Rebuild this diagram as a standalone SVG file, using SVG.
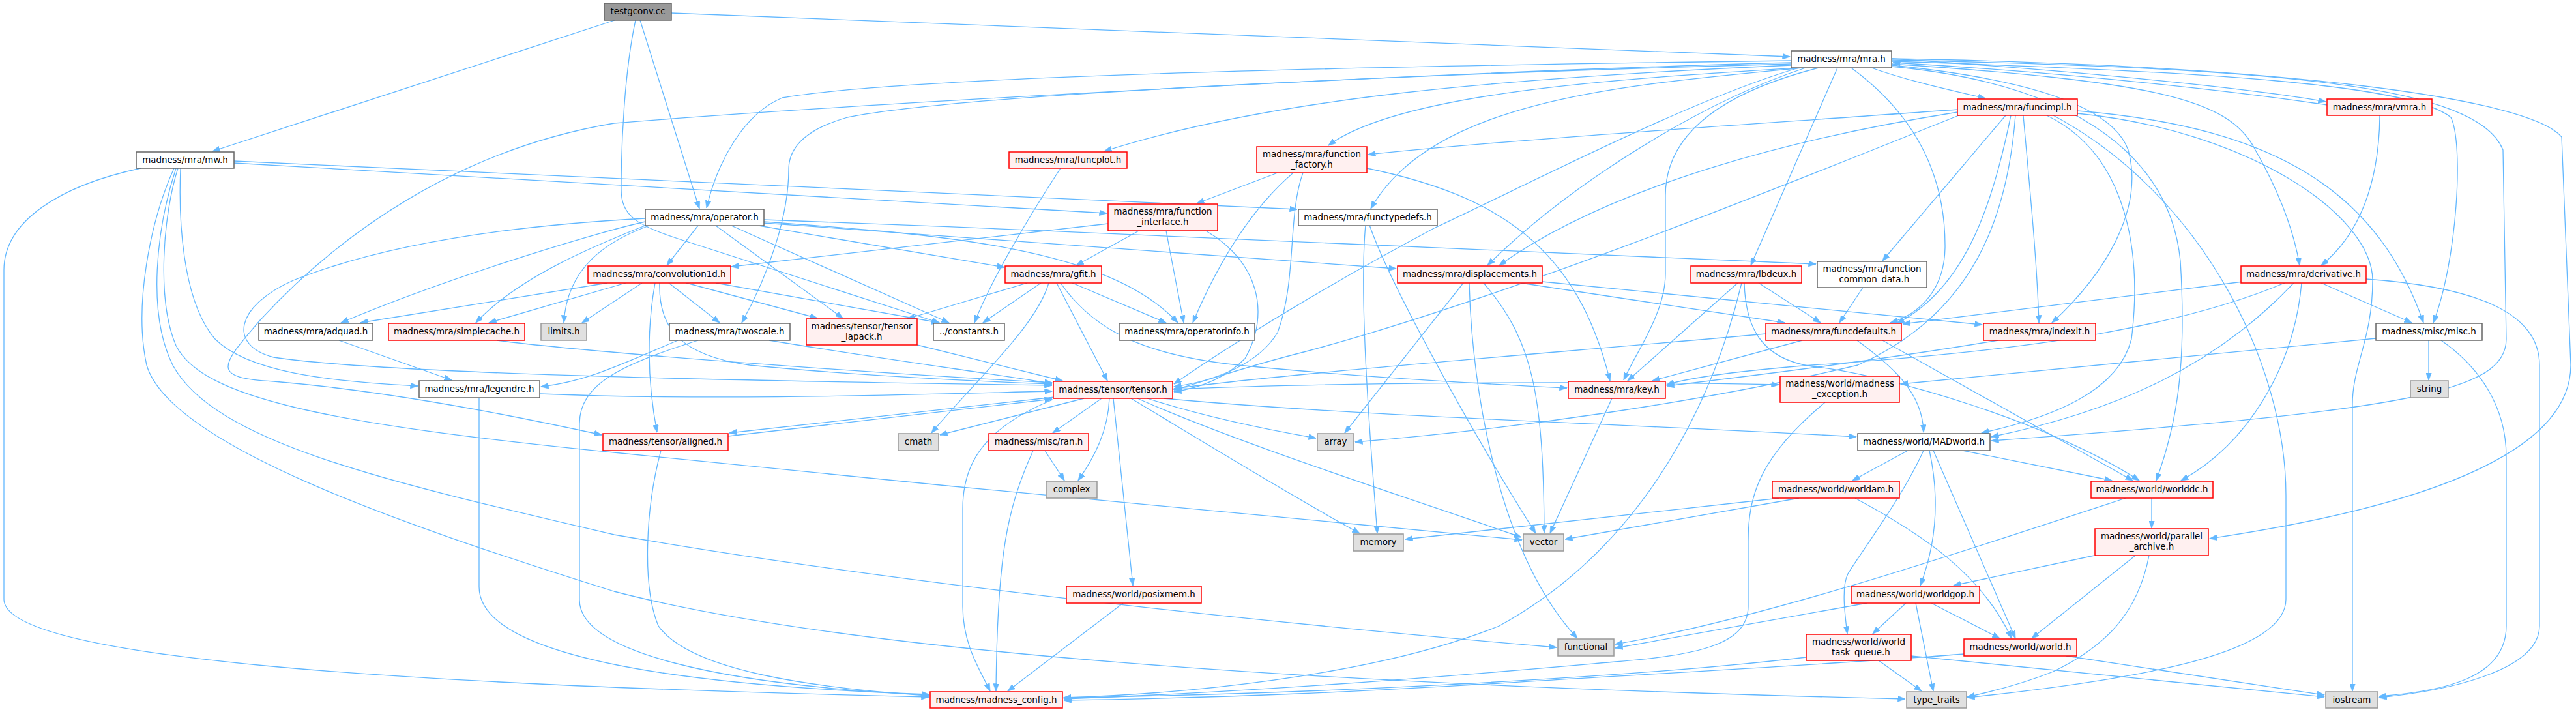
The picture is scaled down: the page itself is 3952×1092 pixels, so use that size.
<svg xmlns="http://www.w3.org/2000/svg" width="3952" height="1092" viewBox="0 0 3952 1092">
<defs>
<style>
.e path{fill:none;stroke:#63B8FF;stroke-width:1.3;marker-end:url(#a)}
text{font-family:"DejaVu Sans",Verdana,sans-serif;font-size:13.4px;fill:#000;text-anchor:middle}
.w rect{fill:#FFFFFF;stroke:#666666;stroke-width:1.5}
.r rect{fill:#FFF0F0;stroke:#FF0000;stroke-width:1.5}
.g rect{fill:#E0E0E0;stroke:#999999;stroke-width:1.5}
.root rect{fill:#999999;stroke:#666666;stroke-width:1.5}
</style>
<marker id="a" viewBox="0 0 12 9" refX="11.5" refY="4.5" markerWidth="12" markerHeight="9" markerUnits="userSpaceOnUse" orient="auto"><path d="M0,0L12,4.5L0,9z" fill="#63B8FF" stroke="#63B8FF" stroke-width="0.5"/></marker>
</defs>
<rect x="0" y="0" width="3952" height="1092" fill="#FFFFFF"/>
<g id="connectors" class="e">
<path d="M943,31 L326,232"/>
<path d="M982,31 L1073,320"/>
<path d="M975,31 C958,110 953,220 953,290 C953,330 975,345 1040,366 L1441,495"/>
<path d="M1030,20 L2746,87"/>
<path d="M216,258 C90,285 6,340 6,414 L6,919 C6,1010 600,1050 1425,1069"/>
<path d="M359,250 L1698,327"/>
<path d="M359,247 L1990,321"/>
<path d="M277,258 C274,330 278,460 330,520 C380,570 500,585 641,592"/>
<path d="M273,258 C250,330 240,460 270,530 C310,610 500,650 942,694 C1400,740 2000,800 2335,828"/>
<path d="M270,258 C240,350 225,480 265,560 C330,680 600,740 942,820 C1400,900 2000,960 2388,993"/>
<path d="M267,258 C230,340 205,470 225,560 C260,680 600,800 942,907 C1300,1000 2000,1050 2923,1072"/>
<path d="M2748,93 C2200,100 1400,115 1200,150 C1140,175 1100,250 1084,319"/>
<path d="M2748,96 C2200,110 1300,160 942,189 C700,230 520,360 400,490 C340,560 320,580 420,585 C600,600 800,640 923,667"/>
<path d="M2748,98 C2300,110 1500,140 1300,180 C1230,200 1210,230 1210,260 C1210,330 1180,420 1138,495"/>
<path d="M2748,100 C2300,120 1950,150 1694,232"/>
<path d="M2760,104 C2500,120 2150,140 2038,223"/>
<path d="M2765,104 C2500,130 2200,150 2103,320"/>
<path d="M2770,104 C2600,160 2400,290 2282,407"/>
<path d="M2819,104 L2686,407"/>
<path d="M2790,104 C2650,140 2555,200 2555,300 L2555,420 C2555,480 2510,540 2491,583"/>
<path d="M2871,104 C2930,125 3000,140 3046,151"/>
<path d="M2902,90 C3200,110 3450,135 3568,156"/>
<path d="M3570,161 C3450,143 3200,113 2904,96"/>
<path d="M2902,98 C3300,125 3420,150 3460,230 C3500,300 3520,360 3528,407"/>
<path d="M2902,94 C3400,110 3700,130 3760,180 C3780,220 3770,400 3733,495"/>
<path d="M2902,92 C3500,105 3800,130 3840,230 L3845,520 C3845,600 3700,630 3055,676"/>
<path d="M2902,90 C3500,100 3880,150 3930,210 L3944,560 C3944,700 3700,780 3390,826"/>
<path d="M2840,104 C2930,170 2985,260 2984,380 C2983,440 2950,480 2900,495"/>
<path d="M2902,100 C3100,120 3240,160 3265,230 C3290,320 3230,420 3148,495"/>
<path d="M2902,102 C3200,130 3330,250 3345,400 C3355,560 3340,650 3308,737"/>
<path d="M2760,104 C2600,150 2350,280 2200,350 C2050,430 1900,520 1801,589"/>
<path d="M3003,168 C2700,190 2300,215 2099,237"/>
<path d="M3003,172 C2700,220 2450,300 2300,407"/>
<path d="M3005,177 C2700,300 2300,460 2000,540 C1900,565 1850,585 1801,598"/>
<path d="M3077,177 L2888,400"/>
<path d="M3085,177 C3060,300 3020,440 2910,496"/>
<path d="M3104,177 C3115,300 3125,400 3128,495"/>
<path d="M3092,177 C3080,330 3030,480 2850,560 C2600,620 2300,660 2079,678"/>
<path d="M3140,177 C3270,240 3285,400 3270,520 C3250,600 3150,640 3040,664"/>
<path d="M3150,177 C3380,300 3507,560 3507,760 L3507,919 C3507,1000 3300,1040 3018,1070"/>
<path d="M3187,174 C3450,200 3640,330 3640,430 C3640,520 3609,560 3609,620 L3609,1060"/>
<path d="M3187,170 C3500,195 3650,300 3718,495"/>
<path d="M3651,177 C3650,280 3620,360 3561,407"/>
<path d="M3441,432 L2919,497"/>
<path d="M3505,434 C3300,520 3000,545 2780,560 C2650,570 2590,580 2557,590"/>
<path d="M3519,434 C3400,560 3250,630 3055,670"/>
<path d="M3531,434 C3520,560 3450,680 3346,737"/>
<path d="M3561,434 L3700,495"/>
<path d="M3630,428 C3800,440 3896,480 3896,560 L3896,960 C3896,1030 3750,1060 3650,1070"/>
<path d="M2849,522 C2900,560 2950,600 2951,663"/>
<path d="M2888,522 L3272,737"/>
<path d="M2765,522 L2535,584"/>
<path d="M2709,512 C2400,540 2000,570 1801,596"/>
<path d="M2858,441 L2822,495"/>
<path d="M2666,434 L2497,584"/>
<path d="M2698,434 L2793,495"/>
<path d="M2676,434 C2678,500 2700,550 2780,562 C2900,575 3150,650 3282,737"/>
<path d="M2672,434 C2620,650 2500,850 2300,960 C2100,1040 1800,1065 1632,1070"/>
<path d="M2245,434 L2063,664"/>
<path d="M2254,434 C2258,600 2300,850 2420,979"/>
<path d="M2276,434 C2350,520 2368,600 2369,817"/>
<path d="M2333,434 L2738,495"/>
<path d="M2366,432 L3041,498"/>
<path d="M1960,265 L1836,312"/>
<path d="M1984,265 C1920,320 1870,400 1830,495"/>
<path d="M1999,265 C1975,330 1990,430 1960,510 C1930,560 1860,585 1801,593"/>
<path d="M2097,258 C2300,300 2420,380 2470,584"/>
<path d="M2095,345 C2085,450 2100,650 2113,818"/>
<path d="M2101,345 C2130,430 2250,650 2356,818"/>
<path d="M1700,343 L1122,409"/>
<path d="M1747,354 L1651,407"/>
<path d="M1789,354 L1816,495"/>
<path d="M1850,354 C1930,400 1950,480 1910,550 C1880,580 1840,595 1801,601"/>
<path d="M1627,434 C1680,510 1760,545 1900,560 C2100,580 2300,590 2404,595"/>
<path d="M1071,346 L1023,407"/>
<path d="M1098,346 L1293,488"/>
<path d="M1122,346 L1456,495"/>
<path d="M1152,344 L1541,410"/>
<path d="M1172,340 C1450,360 1700,380 1807,495"/>
<path d="M1172,337 C1800,360 2500,390 2786,405"/>
<path d="M1172,342 C1600,370 2000,400 2142,412"/>
<path d="M990,340 C940,350 700,420 523,495"/>
<path d="M992,345 C930,370 800,420 730,495"/>
<path d="M996,346 C930,370 870,410 865,495"/>
<path d="M990,335 C800,345 600,370 450,430 C360,470 350,530 420,548 C600,575 1200,585 1614,591"/>
<path d="M932,434 L553,495"/>
<path d="M960,434 L750,495"/>
<path d="M985,434 L893,495"/>
<path d="M1005,434 C993,500 992,580 1008,663"/>
<path d="M1012,434 C1010,500 1040,545 1150,560 C1300,575 1500,585 1614,589"/>
<path d="M1026,434 L1104,495"/>
<path d="M1053,434 L1254,488"/>
<path d="M1098,434 L1441,495"/>
<path d="M1576,434 L1392,489"/>
<path d="M1597,434 L1508,495"/>
<path d="M1609,434 C1590,500 1500,580 1429,664"/>
<path d="M1621,434 L1699,584"/>
<path d="M1645,434 L1789,495"/>
<path d="M1627,258 C1580,330 1520,430 1495,495"/>
<path d="M520,522 L693,583"/>
<path d="M762,522 C900,540 1300,570 1614,587"/>
<path d="M1180,522 C1350,550 1500,570 1614,588"/>
<path d="M1071,522 C950,560 889,590 889,650 L889,920 C889,1000 1100,1050 1425,1066"/>
<path d="M1040,522 C950,560 900,585 830,593"/>
<path d="M735,610 L735,900 C735,1000 1000,1050 1425,1065"/>
<path d="M828,604 C1100,615 1400,605 1614,600"/>
<path d="M1407,529 L1630,584"/>
<path d="M1618,609 L1119,664"/>
<path d="M1117,669 L1614,612"/>
<path d="M1663,611 L1442,667"/>
<path d="M1690,611 L1615,664"/>
<path d="M1702,611 C1700,660 1680,700 1654,737"/>
<path d="M1708,611 L1738,898"/>
<path d="M1615,613 C1500,660 1477,720 1477,780 L1477,930 C1477,990 1505,1030 1519,1060"/>
<path d="M1760,611 C1850,640 1950,660 2019,672"/>
<path d="M1745,611 C1900,680 2150,760 2334,824"/>
<path d="M1735,611 C1850,680 1980,760 2086,818"/>
<path d="M1799,597 C2100,585 2500,585 2729,590"/>
<path d="M1785,611 C2100,640 2500,650 2848,670"/>
<path d="M1014,691 C990,780 985,900 1010,960 C1060,1030 1250,1055 1425,1067"/>
<path d="M1603,691 L1633,737"/>
<path d="M1585,691 C1545,780 1530,850 1528,1060"/>
<path d="M1723,925 L1546,1060"/>
<path d="M2473,611 L2378,818"/>
<path d="M2800,617 C2700,700 2682,760 2682,830 L2682,930 C2682,990 2600,1005 2478,1015 C2200,1040 1900,1062 1632,1072"/>
<path d="M3645,519 L2916,589"/>
<path d="M3726,522 L3726,583"/>
<path d="M3745,522 C3800,560 3845,620 3845,700 L3845,960 C3845,1040 3750,1060 3650,1068"/>
<path d="M2927,691 L2842,737"/>
<path d="M3011,691 L3240,737"/>
<path d="M2960,691 C2975,760 2972,830 2946,898"/>
<path d="M2951,691 C2920,760 2860,840 2835,880 C2825,900 2830,940 2834,972"/>
<path d="M2966,691 L3092,979"/>
<path d="M2846,764 C2950,820 3040,880 3086,979"/>
<path d="M2730,764 L2156,827"/>
<path d="M2760,764 L2401,827"/>
<path d="M3301,764 L3301,810"/>
<path d="M3261,764 C3000,850 2700,950 2478,988"/>
<path d="M3213,852 L2997,898"/>
<path d="M3276,852 L3117,979"/>
<path d="M3297,852 C3280,940 3231,991 3150,1030 C3100,1050 3050,1062 3018,1069"/>
<path d="M2864,925 L2478,994"/>
<path d="M2924,925 L2873,972"/>
<path d="M2939,925 L2966,1060"/>
<path d="M2963,925 L3068,979"/>
<path d="M2882,1013 L2948,1060"/>
<path d="M2932,1006 L3566,1069"/>
<path d="M3170,1006 L3566,1066"/>
<path d="M2771,1008 C2500,1040 2000,1065 1632,1070"/>
<path d="M3013,1003 C2800,1020 2500,1035 2300,1048 C2100,1060 1900,1070 1632,1074"/>
<path d="M3065,522 C2900,550 2700,575 2557,592"/>
</g>
<g id="n_testgconv" class="root"><rect x="927" y="5" width="103" height="26"/><text x="978.5" y="22">testgconv.cc</text></g>
<g id="n_mw" class="w"><rect x="209" y="233" width="150" height="25"/><text x="284" y="250">madness/mra/mw.h</text></g>
<g id="n_operator" class="w"><rect x="990" y="321" width="182" height="25"/><text x="1081" y="338">madness/mra/operator.h</text></g>
<g id="n_mra" class="w"><rect x="2748" y="78" width="154" height="26"/><text x="2825" y="95">madness/mra/mra.h</text></g>
<g id="n_funcplot" class="r"><rect x="1548" y="233" width="181" height="25"/><text x="1638.5" y="250">madness/mra/funcplot.h</text></g>
<g id="n_function_factory" class="r"><rect x="1928" y="225" width="169" height="40"/><text x="2012.5" y="241">madness/mra/function</text><text x="2012.5" y="257">_factory.h</text></g>
<g id="n_function_interface" class="r"><rect x="1700" y="313" width="168" height="41"/><text x="1784" y="329">madness/mra/function</text><text x="1784" y="345">_interface.h</text></g>
<g id="n_functypedefs" class="w"><rect x="1992" y="321" width="213" height="25"/><text x="2098.5" y="338">madness/mra/functypedefs.h</text></g>
<g id="n_funcimpl" class="r"><rect x="3003" y="152" width="184" height="25"/><text x="3095" y="169">madness/mra/funcimpl.h</text></g>
<g id="n_vmra" class="r"><rect x="3570" y="152" width="161" height="25"/><text x="3650.5" y="169">madness/mra/vmra.h</text></g>
<g id="n_convolution1d" class="r"><rect x="902" y="408" width="219" height="26"/><text x="1011.5" y="425">madness/mra/convolution1d.h</text></g>
<g id="n_gfit" class="r"><rect x="1542" y="408" width="148" height="26"/><text x="1616" y="425">madness/mra/gfit.h</text></g>
<g id="n_displacements" class="r"><rect x="2144" y="408" width="222" height="26"/><text x="2255" y="425">madness/mra/displacements.h</text></g>
<g id="n_lbdeux" class="r"><rect x="2594" y="408" width="170" height="26"/><text x="2679" y="425">madness/mra/lbdeux.h</text></g>
<g id="n_function_common_data" class="w"><rect x="2788" y="401" width="168" height="40"/><text x="2872" y="417">madness/mra/function</text><text x="2872" y="433">_common_data.h</text></g>
<g id="n_derivative" class="r"><rect x="3438" y="408" width="192" height="26"/><text x="3534" y="425">madness/mra/derivative.h</text></g>
<g id="n_adquad" class="w"><rect x="397" y="496" width="175" height="26"/><text x="484.5" y="513">madness/mra/adquad.h</text></g>
<g id="n_simplecache" class="r"><rect x="596" y="496" width="209" height="26"/><text x="700.5" y="513">madness/mra/simplecache.h</text></g>
<g id="n_limits" class="g"><rect x="830" y="496" width="70" height="26"/><text x="865" y="513">limits.h</text></g>
<g id="n_twoscale" class="w"><rect x="1027" y="496" width="185" height="26"/><text x="1119.5" y="513">madness/mra/twoscale.h</text></g>
<g id="n_tensor_lapack" class="r"><rect x="1237" y="489" width="170" height="40"/><text x="1322" y="505">madness/tensor/tensor</text><text x="1322" y="521">_lapack.h</text></g>
<g id="n_constants" class="w"><rect x="1432" y="496" width="109" height="26"/><text x="1486.5" y="513">../constants.h</text></g>
<g id="n_operatorinfo" class="w"><rect x="1717" y="496" width="208" height="26"/><text x="1821" y="513">madness/mra/operatorinfo.h</text></g>
<g id="n_funcdefaults" class="r"><rect x="2709" y="496" width="208" height="26"/><text x="2813" y="513">madness/mra/funcdefaults.h</text></g>
<g id="n_indexit" class="r"><rect x="3043" y="496" width="172" height="26"/><text x="3129" y="513">madness/mra/indexit.h</text></g>
<g id="n_misc" class="w"><rect x="3645" y="496" width="163" height="26"/><text x="3726.5" y="513">madness/misc/misc.h</text></g>
<g id="n_legendre" class="w"><rect x="643" y="584" width="185" height="26"/><text x="735.5" y="601">madness/mra/legendre.h</text></g>
<g id="n_tensor" class="r"><rect x="1616" y="585" width="183" height="26"/><text x="1707.5" y="602">madness/tensor/tensor.h</text></g>
<g id="n_key" class="r"><rect x="2406" y="585" width="149" height="26"/><text x="2480.5" y="602">madness/mra/key.h</text></g>
<g id="n_madness_exception" class="r"><rect x="2731" y="577" width="183" height="40"/><text x="2822.5" y="593">madness/world/madness</text><text x="2822.5" y="609">_exception.h</text></g>
<g id="n_string" class="g"><rect x="3698" y="584" width="58" height="26"/><text x="3727" y="601">string</text></g>
<g id="n_aligned" class="r"><rect x="925" y="665" width="192" height="26"/><text x="1021" y="682">madness/tensor/aligned.h</text></g>
<g id="n_cmath" class="g"><rect x="1378" y="665" width="62" height="26"/><text x="1409" y="682">cmath</text></g>
<g id="n_ran" class="r"><rect x="1517" y="665" width="153" height="26"/><text x="1593.5" y="682">madness/misc/ran.h</text></g>
<g id="n_array" class="g"><rect x="2021" y="665" width="56" height="26"/><text x="2049" y="682">array</text></g>
<g id="n_MADworld" class="w"><rect x="2850" y="665" width="203" height="26"/><text x="2951.5" y="682">madness/world/MADworld.h</text></g>
<g id="n_complex" class="g"><rect x="1605" y="738" width="78" height="26"/><text x="1644" y="755">complex</text></g>
<g id="n_worldam" class="r"><rect x="2719" y="738" width="195" height="26"/><text x="2816.5" y="755">madness/world/worldam.h</text></g>
<g id="n_worlddc" class="r"><rect x="3208" y="738" width="187" height="26"/><text x="3301.5" y="755">madness/world/worlddc.h</text></g>
<g id="n_memory" class="g"><rect x="2076" y="819" width="77" height="26"/><text x="2114.5" y="836">memory</text></g>
<g id="n_vector" class="g"><rect x="2337" y="819" width="62" height="26"/><text x="2368" y="836">vector</text></g>
<g id="n_parallel_archive" class="r"><rect x="3214" y="811" width="174" height="41"/><text x="3301" y="827">madness/world/parallel</text><text x="3301" y="843">_archive.h</text></g>
<g id="n_posixmem" class="r"><rect x="1636" y="899" width="207" height="26"/><text x="1739.5" y="916">madness/world/posixmem.h</text></g>
<g id="n_worldgop" class="r"><rect x="2840" y="899" width="197" height="26"/><text x="2938.5" y="916">madness/world/worldgop.h</text></g>
<g id="n_functional" class="g"><rect x="2390" y="980" width="86" height="26"/><text x="2433" y="997">functional</text></g>
<g id="n_world_task_queue" class="r"><rect x="2771" y="973" width="161" height="40"/><text x="2851.5" y="989">madness/world/world</text><text x="2851.5" y="1005">_task_queue.h</text></g>
<g id="n_world" class="r"><rect x="3013" y="980" width="173" height="26"/><text x="3099.5" y="997">madness/world/world.h</text></g>
<g id="n_madness_config" class="r"><rect x="1427" y="1061" width="203" height="25"/><text x="1528.5" y="1078">madness/madness_config.h</text></g>
<g id="n_type_traits" class="g"><rect x="2925" y="1061" width="92" height="25"/><text x="2971" y="1078">type_traits</text></g>
<g id="n_iostream" class="g"><rect x="3568" y="1061" width="80" height="25"/><text x="3608" y="1078">iostream</text></g>
</svg>
